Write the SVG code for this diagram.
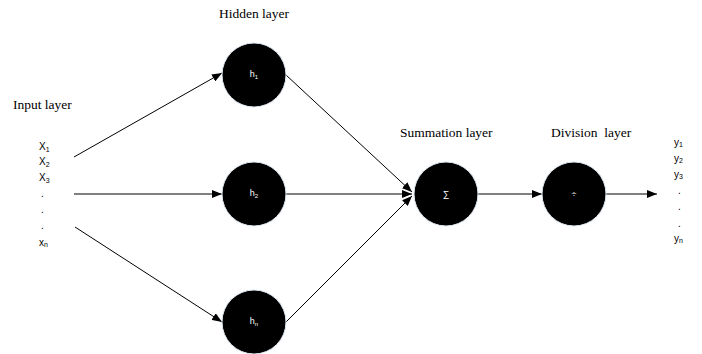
<svg xmlns="http://www.w3.org/2000/svg" width="702" height="354" viewBox="0 0 702 354">
<style>
.title{font-family:"Liberation Serif","Times New Roman",serif;font-size:13.5px;fill:#000;white-space:pre}
.lab{font-family:"Liberation Sans",Arial,sans-serif;font-size:10px;fill:#000}
.sub{font-size:7px}
.node circle{fill:#000;stroke:#dfe8f2;stroke-width:1}
.nl{font-family:"Liberation Sans",Arial,sans-serif;font-size:9px;fill:#fff;text-anchor:middle}
.conn line{stroke:#000;stroke-width:1;marker-end:url(#arr)}
</style>
<defs>
<marker id="arr" viewBox="0 0 10 8" refX="10" refY="4" markerWidth="10" markerHeight="8" markerUnits="userSpaceOnUse" orient="auto">
<path d="M0,0 L10,4 L0,8 Z" fill="#000"/>
</marker>
</defs>
<rect width="702" height="354" fill="#fff"/>
<text class="title" x="13" y="109">Input layer</text>
<text class="title" x="219" y="18">Hidden layer</text>
<text class="title" x="400" y="137">Summation layer</text>
<text class="title" x="551" y="137">Division  layer</text>
<g id="inputs">
<text class="lab" x="39" y="150">X<tspan class="sub" dy="2">1</tspan></text>
<text class="lab" x="39" y="165">X<tspan class="sub" dy="2">2</tspan></text>
<text class="lab" x="39" y="181">X<tspan class="sub" dy="2">3</tspan></text>
<text class="lab" x="41" y="197">.</text>
<text class="lab" x="41" y="213">.</text>
<text class="lab" x="41" y="229">.</text>
<text class="lab" x="39" y="246">x<tspan class="sub" dy="1">n</tspan></text>
</g>
<g id="outputs">
<text class="lab" x="674" y="146">y<tspan class="sub" dy="1">1</tspan></text>
<text class="lab" x="674" y="162">y<tspan class="sub" dy="1">2</tspan></text>
<text class="lab" x="674" y="178">y<tspan class="sub" dy="1">3</tspan></text>
<text class="lab" x="678" y="194">.</text>
<text class="lab" x="678" y="210">.</text>
<text class="lab" x="678" y="227">.</text>
<text class="lab" x="674" y="242">y<tspan class="sub" dy="1">n</tspan></text>
</g>
<g class="conn" id="connectors">
<line x1="74" y1="157" x2="222" y2="73"/>
<line x1="74" y1="194" x2="222" y2="194"/>
<line x1="75" y1="227" x2="222" y2="322"/>
<line x1="286" y1="75" x2="412" y2="192"/>
<line x1="286" y1="194" x2="412" y2="194"/>
<line x1="286" y1="322" x2="412" y2="196"/>
<line x1="478" y1="194" x2="542" y2="194"/>
<line x1="606" y1="194" x2="657" y2="194"/>
</g>
<g class="node" id="h1"><circle cx="254" cy="75" r="32"/><text class="nl" x="254" y="77">h<tspan font-size="6" dy="1.5">1</tspan></text></g>
<g class="node" id="h2"><circle cx="254" cy="194" r="32"/><text class="nl" x="254" y="196">h<tspan font-size="6" dy="1.5">2</tspan></text></g>
<g class="node" id="hn"><circle cx="254" cy="322" r="32"/><text class="nl" x="254" y="324">h<tspan font-size="6" dy="1.5">n</tspan></text></g>
<g class="node" id="sum"><circle cx="446" cy="194" r="32"/><text class="nl" x="446" y="197">∑</text></g>
<g class="node" id="div"><circle cx="574" cy="194" r="32"/><text class="nl" x="574" y="197">÷</text></g>
</svg>
